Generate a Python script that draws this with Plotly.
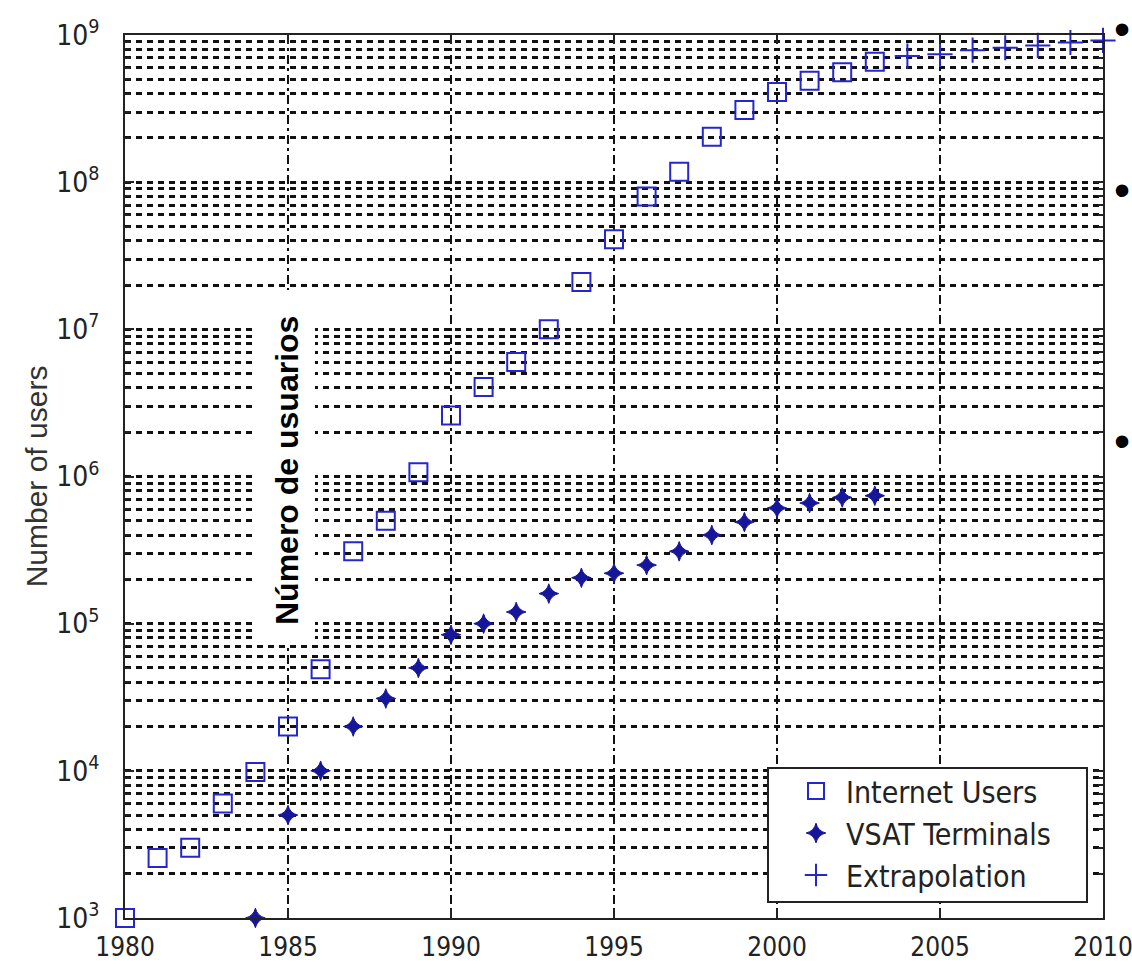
import plotly.graph_objects as go

# ---- data ----
internet_years = list(range(1980, 2004))
internet_users = [1.0e3, 2.55e3, 3.0e3, 6.0e3, 9.8e3, 2.0e4, 4.9e4, 3.1e5, 5.0e5, 1.07e6,
                  2.6e6, 4.05e6, 6.0e6, 1.0e7, 2.1e7, 4.1e7, 8.0e7, 1.18e8, 2.04e8, 3.1e8,
                  4.1e8, 4.9e8, 5.6e8, 6.6e8]

vsat_years = list(range(1984, 2004))
vsat_terminals = [1.0e3, 5.0e3, 1.0e4, 2.0e4, 3.1e4, 5.0e4, 8.4e4, 1.0e5, 1.2e5, 1.6e5,
                  2.05e5, 2.2e5, 2.5e5, 3.1e5, 4.0e5, 4.9e5, 6.1e5, 6.6e5, 7.2e5, 7.4e5]

extrap_years = list(range(2004, 2011))
extrap_values = [7.2e8, 7.4e8, 7.9e8, 8.2e8, 8.5e8, 8.9e8, 9.2e8]

x_ticks = [1980, 1985, 1990, 1995, 2000, 2005, 2010]
y_exponents = [3, 4, 5, 6, 7, 8, 9]
y_ticks = [10 ** e for e in y_exponents]
y_ticktext = [f"10<sup>{e}</sup>" for e in y_exponents]
y_minor = [k * 10 ** e for e in y_exponents[:-1] for k in range(2, 10)]

series_names = ["Internet Users", "VSAT Terminals", "Extrapolation"]
overlay_label = "Número de usuarios"
y_title = "Number of users"

# ---- styling ----
BLUE = "#2626d0"
NAVY = "#16169a"
NARROW = "Liberation Sans Narrow, Arial Narrow, DejaVu Sans Condensed, Liberation Sans, Arial, sans-serif"
YTICKFONT = dict(family=NARROW, size=28, color="#222222")
XTICKFONT = dict(family=NARROW, size=26, color="#222222")

PL, PR, PT, PB = 125, 1103, 35, 918   # plot area in page pixels
W, H = 1132, 978
pw, ph = PR - PL, PB - PT


def px_x(x):
    return (x - PL) / pw


def px_y(y):
    return (PB - y) / ph


fig = go.Figure()
fig.add_trace(go.Scatter(
    x=internet_years, y=internet_users, mode="markers", name=series_names[0],
    marker=dict(symbol="square-open", size=18, color=BLUE, line=dict(width=2, color=BLUE)),
    cliponaxis=False))
fig.add_trace(go.Scatter(
    x=vsat_years, y=vsat_terminals, mode="markers", name=series_names[1],
    marker=dict(symbol="star-diamond", size=14, color=NAVY, line=dict(width=1, color=NAVY)),
    cliponaxis=False))
fig.add_trace(go.Scatter(
    x=extrap_years, y=extrap_values, mode="markers", name=series_names[2],
    marker=dict(symbol="cross-thin-open", size=18, color=BLUE, line=dict(width=2, color=BLUE)),
    cliponaxis=False))

GRID = "#111111"
fig.update_layout(
    width=W, height=H,
    margin=dict(l=PL, r=W - PR, t=PT, b=H - PB),
    paper_bgcolor="white", plot_bgcolor="white",
    showlegend=True,
    legend=dict(
        x=px_x(786), y=px_y(901), xanchor="left", yanchor="bottom",
        bgcolor="rgba(0,0,0,0)", borderwidth=0,
        font=dict(family=NARROW, size=30, color="#222222"),
        itemwidth=50, itemsizing="trace",
    ),
    xaxis=dict(
        range=[1980, 2010], tickmode="array", tickvals=x_ticks,
        ticks="inside", ticklen=9, tickwidth=2, tickcolor="#222222",
        showline=True, linewidth=2, linecolor="#222222", mirror="ticks",
        showgrid=True, gridcolor=GRID, gridwidth=2, griddash="9px,4px,3px,4px",
        zeroline=False, tickfont=XTICKFONT, ticklabelstandoff=5,
        ticklabeloverflow="allow", automargin=False,
    ),
    yaxis=dict(
        type="log", range=[2.9995, 9.0005], tickmode="array", tickvals=y_ticks, ticktext=y_ticktext,
        ticks="inside", ticklen=9, tickwidth=2, tickcolor="#222222",
        showline=True, linewidth=2, linecolor="#222222", mirror="ticks",
        showgrid=True, gridcolor=GRID, gridwidth=2.5, griddash="6px,5px",
        minor=dict(tickmode="array", tickvals=y_minor, ticks="inside", ticklen=5,
                   tickcolor="#222222", showgrid=True, gridcolor=GRID,
                   gridwidth=2.5, griddash="6px,5px"),
        zeroline=False, tickfont=YTICKFONT, ticklabelstandoff=18,
        ticklabeloverflow="allow", automargin=False,
        title=dict(text=y_title, font=dict(family="Liberation Sans, Arial, sans-serif", size=30, color="#333333"),
                   standoff=0),
    ),
)

# legend frame
fig.add_shape(type="rect", xref="paper", yref="paper",
              x0=px_x(768), x1=px_x(1087), y0=px_y(902), y1=px_y(768),
              fillcolor="white", line=dict(width=2, color="#222222"), layer="above")

# white overlay box with the Spanish label
fig.add_shape(type="rect", xref="paper", yref="paper",
              x0=px_x(257), x1=px_x(315), y0=px_y(645), y1=px_y(290),
              fillcolor="white", line=dict(width=0), layer="above")
fig.add_annotation(text=overlay_label, xref="paper", yref="paper",
                   x=px_x(287), y=px_y(471), xanchor="center", yanchor="middle",
                   textangle=-90, showarrow=False,
                   font=dict(family="Liberation Sans, Arial, sans-serif", size=32, color="black", weight="bold"))

# slide bullets at the right edge
for yb in [29, 190, 441]:
    fig.add_annotation(text="•", xref="paper", yref="paper", x=px_x(1122), y=px_y(yb),
                       xanchor="center", yanchor="middle", showarrow=False,
                       font=dict(family="Liberation Sans, Arial, sans-serif", size=46, color="black"))

fig.write_html("out.html",
               config={"displayModeBar": False},
               post_script="document.body.style.margin='0px';document.body.style.overflow='hidden';")
